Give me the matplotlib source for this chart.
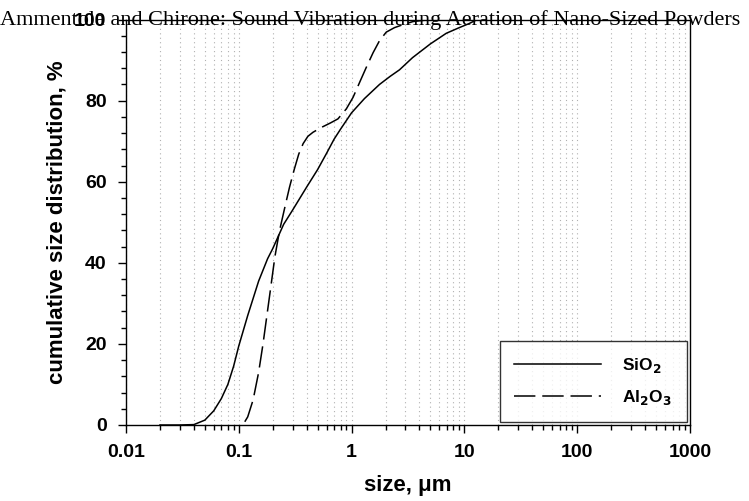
import numpy as np
import matplotlib.pyplot as plt
from matplotlib.ticker import LogLocator, MultipleLocator, FixedLocator

# SiO2 cumulative size distribution (size in um, %)
sio2_size = [0.02, 0.03, 0.04, 0.05, 0.06, 0.07, 0.08, 0.09, 0.1, 0.12, 0.15,
             0.18, 0.2, 0.25, 0.3, 0.4, 0.5, 0.6, 0.7, 0.8, 1.0, 1.3, 1.77,
             2.2, 2.66, 3.47, 5.0, 6.9, 9.0, 11.0, 13.0]
sio2_cum = [0, 0, 0.1, 1.2, 3.5, 6.5, 10, 14.5, 19.5, 27, 35.5,
            41, 43.5, 49.5, 53, 58.7, 63, 67, 70.5, 73, 77, 80.5, 84,
            86, 87.6, 90.6, 94, 96.6, 98, 99, 100]

# Al2O3 cumulative size distribution
al2o3_size = [0.113, 0.12, 0.134, 0.15, 0.164, 0.19, 0.209, 0.23, 0.26, 0.282,
              0.31, 0.34, 0.372, 0.41, 0.455, 0.55, 0.65, 0.757, 0.9, 1.03,
              1.2, 1.35, 1.55, 1.77, 2.03, 2.4, 2.83, 3.5, 5.0]
al2o3_cum = [0.8, 2, 6.2, 13, 20, 33, 41.5, 48, 54.5, 58.7,
             63, 66.8, 69.4, 71.2, 72.2, 73.5, 74.5, 75.5, 78, 80.8,
             85, 88.2, 91.8, 94.8, 96.9, 98, 98.7, 99.5, 100]

plt.rcParams['font.family'] = ['Liberation Sans', 'DejaVu Sans']

fig = plt.figure(figsize=(7.49, 5.01), dpi=100)
ax = fig.add_axes([0.1682, 0.1517, 0.9212 - 0.1682, 0.961 - 0.1517])

ax.plot(sio2_size, sio2_cum, color='black', lw=1.1, label='SiO$_\\mathbf{2}$')
ax.plot(al2o3_size, al2o3_cum, color='black', lw=1.1, linestyle=(0, (14, 4.5)),
        label='Al$_\\mathbf{2}$O$_\\mathbf{3}$')

ax.set_xscale('log')
ax.set_xlim(0.01, 1000)
ax.set_ylim(0, 100)

ax.xaxis.set_major_locator(FixedLocator([0.01, 0.1, 1, 10, 100, 1000]))
ax.set_xticklabels(['0.01', '0.1', '1', '10', '100', '1000'])
ax.xaxis.set_minor_locator(LogLocator(base=10, subs=np.arange(2, 10), numticks=20))
ax.yaxis.set_major_locator(MultipleLocator(20))
ax.yaxis.set_minor_locator(MultipleLocator(4))

ax.grid(True, which='both', axis='x', color='#b0b0b0', lw=0.8, linestyle=(0, (1, 3)))
ax.tick_params(which='major', direction='out', length=6, width=1, labelsize=14, pad=8)
ax.tick_params(which='minor', direction='out', length=3.5, width=1)
for lab in ax.get_xticklabels() + ax.get_yticklabels():
    lab.set_fontweight('bold')
for s in ax.spines.values():
    s.set_linewidth(1)

ax.set_xlabel('size, \u03bcm', fontsize=16, fontweight='bold', labelpad=10)
ax.set_ylabel('cumulative size distribution, %', fontsize=16, fontweight='bold', labelpad=5)

leg = ax.legend(loc='lower right', frameon=True, fancybox=False, edgecolor='black',
                handlelength=5.0, handletextpad=1.2, borderpad=0.85, labelspacing=0.75,
                prop={'weight': 'bold', 'size': 12.5}, borderaxespad=0.2)
leg.get_frame().set_linewidth(1)

fig.text(0.0, 0.95, 'Ammentola and Chirone: Sound Vibration during Aeration of Nano-Sized Powders',
         family='Liberation Serif', fontsize=16, ha='left', va='baseline')

fig.savefig('out.png', dpi=100)
